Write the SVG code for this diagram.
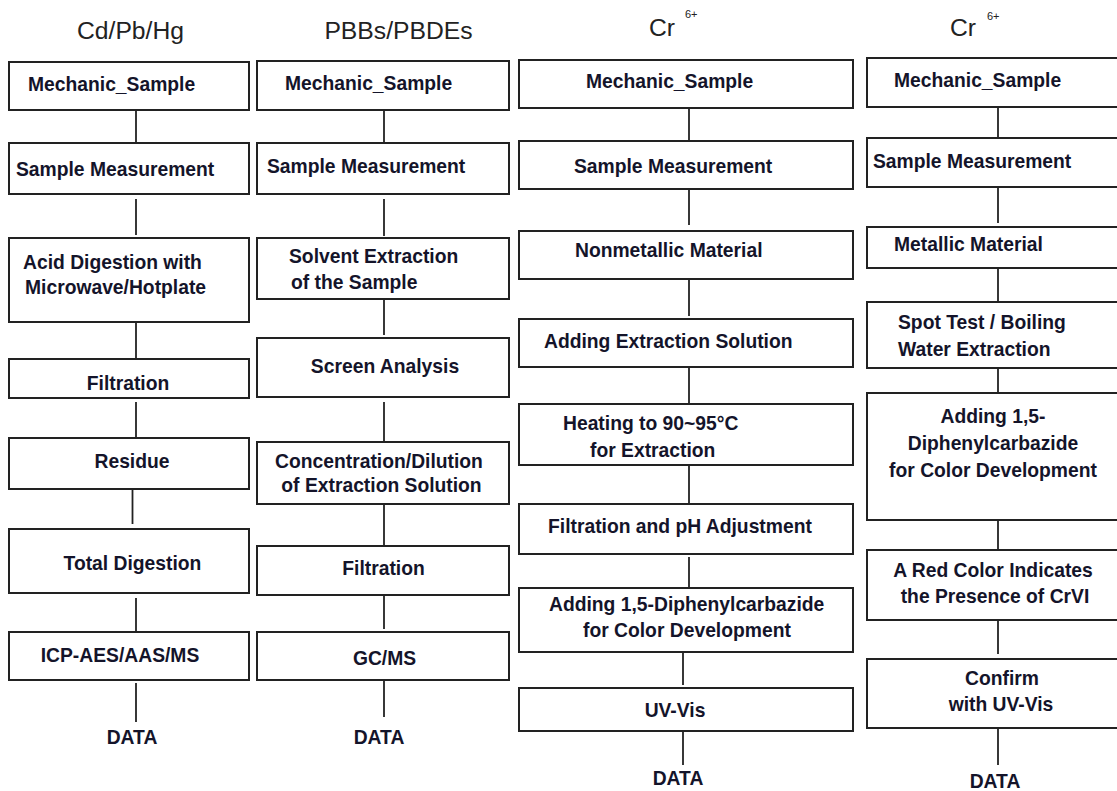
<svg xmlns="http://www.w3.org/2000/svg" width="1117" height="791" viewBox="0 0 1117 791">
<style>
.bg{fill:#ffffff}
.box{fill:#ffffff;stroke:#222;stroke-width:2}
.ln{stroke:#222;stroke-width:1.8;fill:none}
.t{font-family:"Liberation Sans",Arial,sans-serif;font-weight:bold;font-size:19.3px;fill:#14142a}
.c{text-anchor:middle}
.h{font-family:"Liberation Sans",Arial,sans-serif;font-size:24.7px;fill:#222}
.s{font-family:"Liberation Sans",Arial,sans-serif;font-size:11px;fill:#222}
</style>
<rect class="bg" x="0" y="0" width="1117" height="791"/>
<g id="titles">
<text class="h c" x="130.5" y="39">Cd/Pb/Hg</text>
<text class="h c" x="398.5" y="39">PBBs/PBDEs</text>
<text class="h" x="649" y="36">Cr</text><text class="s" x="685" y="18">6+</text>
<text class="h" x="950" y="36">Cr</text><text class="s" x="987" y="20">6+</text>
</g>
<g id="connectors">
<line class="ln" x1="136" y1="110" x2="136" y2="143"/>
<line class="ln" x1="136" y1="199" x2="136" y2="235"/>
<line class="ln" x1="136" y1="322" x2="136" y2="358"/>
<line class="ln" x1="136" y1="402" x2="136" y2="438"/>
<line class="ln" x1="132.5" y1="490" x2="132.5" y2="524"/>
<line class="ln" x1="136" y1="598" x2="136" y2="634"/>
<line class="ln" x1="136" y1="683" x2="136" y2="722"/>
<line class="ln" x1="384" y1="110" x2="384" y2="142"/>
<line class="ln" x1="384" y1="199" x2="384" y2="236"/>
<line class="ln" x1="384" y1="299" x2="384" y2="335"/>
<line class="ln" x1="384" y1="402" x2="384" y2="441"/>
<line class="ln" x1="384" y1="504" x2="384" y2="545"/>
<line class="ln" x1="384" y1="592" x2="384" y2="629"/>
<line class="ln" x1="384" y1="681" x2="384" y2="717"/>
<line class="ln" x1="689" y1="108" x2="689" y2="140"/>
<line class="ln" x1="689" y1="189" x2="689" y2="225"/>
<line class="ln" x1="689" y1="279" x2="689" y2="316"/>
<line class="ln" x1="689" y1="367" x2="689" y2="403"/>
<line class="ln" x1="689" y1="465" x2="689" y2="504"/>
<line class="ln" x1="689" y1="557" x2="689" y2="588"/>
<line class="ln" x1="683" y1="648" x2="683" y2="685"/>
<line class="ln" x1="683" y1="731" x2="683" y2="765"/>
<line class="ln" x1="998" y1="107" x2="998" y2="144"/>
<line class="ln" x1="998" y1="187" x2="998" y2="223"/>
<line class="ln" x1="998" y1="268" x2="998" y2="304"/>
<line class="ln" x1="998" y1="368" x2="998" y2="397"/>
<line class="ln" x1="998" y1="520" x2="998" y2="557"/>
<line class="ln" x1="998" y1="620" x2="998" y2="654"/>
<line class="ln" x1="998" y1="729" x2="998" y2="765"/>
</g>
<!-- Column 1 -->
<g id="a1"><rect class="box" x="9" y="62" width="240" height="48"/><text class="t" x="28" y="91">Mechanic_Sample</text></g>
<g id="a2"><rect class="box" x="9" y="143" width="240" height="51"/><text class="t" x="16" y="176">Sample Measurement</text></g>
<g id="a3"><rect class="box" x="9" y="238" width="240" height="84"/><text class="t" x="23" y="269">Acid Digestion with</text><text class="t" x="25" y="294">Microwave/Hotplate</text></g>
<g id="a4"><rect class="box" x="9" y="359" width="240" height="39"/><text class="t c" x="128" y="390">Filtration</text></g>
<g id="a5"><rect class="box" x="9" y="438" width="240" height="51"/><text class="t c" x="132" y="468">Residue</text></g>
<g id="a6"><rect class="box" x="9" y="529" width="240" height="64"/><text class="t c" x="132.5" y="570">Total Digestion</text></g>
<g id="a7"><rect class="box" x="9" y="632" width="240" height="48"/><text class="t c" x="120" y="662">ICP-AES/AAS/MS</text></g>
<g id="a8"><text class="t c" x="132" y="744">DATA</text></g>
<!-- Column 2 -->
<g id="b1"><rect class="box" x="257" y="61" width="252" height="49"/><text class="t" x="285" y="90">Mechanic_Sample</text></g>
<g id="b2"><rect class="box" x="257" y="143" width="252" height="51"/><text class="t" x="267" y="173">Sample Measurement</text></g>
<g id="b3"><rect class="box" x="257" y="238" width="252" height="61"/><text class="t" x="289" y="263">Solvent Extraction</text><text class="t" x="291" y="289">of the Sample</text></g>
<g id="b4"><rect class="box" x="257" y="338" width="252" height="59"/><text class="t c" x="385" y="373">Screen Analysis</text></g>
<g id="b5"><rect class="box" x="257" y="442" width="252" height="62"/><text class="t c" x="379" y="468">Concentration/Dilution</text><text class="t c" x="381.5" y="492">of Extraction Solution</text></g>
<g id="b6"><rect class="box" x="257" y="546" width="252" height="49"/><text class="t c" x="383.5" y="575">Filtration</text></g>
<g id="b7"><rect class="box" x="257" y="632" width="252" height="48"/><text class="t c" x="384.5" y="665">GC/MS</text></g>
<g id="b8"><text class="t c" x="379" y="744">DATA</text></g>
<!-- Column 3 -->
<g id="c1"><rect class="box" x="519" y="60" width="334" height="48"/><text class="t" x="586" y="88">Mechanic_Sample</text></g>
<g id="c2"><rect class="box" x="519" y="141" width="334" height="48"/><text class="t" x="574" y="173">Sample Measurement</text></g>
<g id="c3"><rect class="box" x="519" y="231" width="334" height="48"/><text class="t" x="575" y="257">Nonmetallic Material</text></g>
<g id="c4"><rect class="box" x="519" y="319" width="334" height="48"/><text class="t" x="544" y="348">Adding Extraction Solution</text></g>
<g id="c5"><rect class="box" x="519" y="404" width="334" height="61"/><text class="t" x="563" y="430">Heating to 90~95°C</text><text class="t" x="590" y="457">for Extraction</text></g>
<g id="c6"><rect class="box" x="519" y="504" width="334" height="50"/><text class="t" x="548" y="533">Filtration and pH Adjustment</text></g>
<g id="c7"><rect class="box" x="519" y="588" width="334" height="64"/><text class="t" x="549" y="611">Adding 1,5-Diphenylcarbazide</text><text class="t" x="583" y="637">for Color Development</text></g>
<g id="c8"><rect class="box" x="519" y="688" width="334" height="43"/><text class="t c" x="675" y="717">UV-Vis</text></g>
<g id="c9"><text class="t c" x="678" y="785">DATA</text></g>
<!-- Column 4 -->
<g id="d1"><rect class="box" x="867" y="58" width="260" height="49"/><text class="t" x="894" y="87">Mechanic_Sample</text></g>
<g id="d2"><rect class="box" x="867" y="138" width="260" height="49"/><text class="t" x="873" y="168">Sample Measurement</text></g>
<g id="d3"><rect class="box" x="867" y="227" width="260" height="41"/><text class="t" x="894" y="251">Metallic Material</text></g>
<g id="d4"><rect class="box" x="867" y="302" width="260" height="66"/><text class="t" x="898" y="329">Spot Test / Boiling</text><text class="t" x="898" y="356">Water Extraction</text></g>
<g id="d5"><rect class="box" x="867" y="393" width="260" height="127"/><text class="t c" x="993" y="423">Adding 1,5-</text><text class="t c" x="993" y="450">Diphenylcarbazide</text><text class="t c" x="993" y="477">for Color Development</text></g>
<g id="d6"><rect class="box" x="867" y="550" width="260" height="70"/><text class="t c" x="993" y="577">A Red Color Indicates</text><text class="t c" x="995" y="603">the Presence of CrVI</text></g>
<g id="d7"><rect class="box" x="867" y="659" width="260" height="69"/><text class="t c" x="1002" y="685">Confirm</text><text class="t c" x="1001" y="711">with UV-Vis</text></g>
<g id="d8"><text class="t c" x="995" y="788">DATA</text></g>
</svg>
